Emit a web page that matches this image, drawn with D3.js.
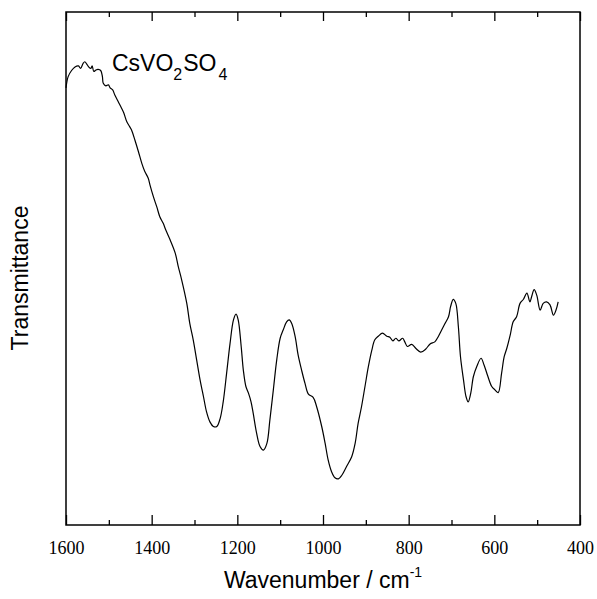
<!DOCTYPE html>
<html>
<head>
<meta charset="utf-8">
<script src="https://cdn.jsdelivr.net/npm/d3@7"></script>
<style>
  body { margin: 0; background: #fff; }
  .tick text { font-family: "Liberation Serif", "Times New Roman", serif; font-size: 18px; fill: #000; }
  .tick line { stroke: #000; stroke-width: 1.3; }
</style>
</head>
<body>
<div id="chart"></div>
<script>
// IR spectrum (wavenumber in cm-1, transmittance in arbitrary units)
var wavenumber = [1600, 1595, 1587, 1579, 1571, 1566, 1560, 1556, 1552, 1546, 1542, 1539, 1535, 1530, 1525, 1519,
  1515, 1513, 1507, 1501, 1497, 1491, 1486, 1478, 1470, 1465, 1458, 1451, 1447, 1439, 1431, 1423, 1416, 1408,
  1404, 1396, 1388, 1381, 1373, 1367, 1357, 1345, 1338, 1330, 1318, 1311, 1303, 1295, 1287, 1279, 1272, 1264,
  1256, 1248, 1240, 1233, 1225, 1217, 1209, 1203, 1198, 1191, 1186, 1180, 1174, 1168, 1163, 1155, 1147, 1139,
  1131, 1124, 1116, 1108, 1100, 1093, 1085, 1079, 1073, 1065, 1058, 1050, 1042, 1034, 1023, 1015, 1003, 995,
  988, 980, 972, 964, 956, 945, 933, 925, 918, 910, 902, 894, 886, 879, 871, 861, 851, 844, 837, 830, 823, 814,
  809, 803, 793, 783, 772, 760, 750, 739, 731, 723, 715, 707, 702, 696, 690, 684, 679, 672, 666, 661, 655, 649,
  641, 631, 624, 616, 606, 598, 591, 583, 577, 571, 563, 556, 548, 540, 532, 524, 517, 513, 507, 501, 493, 486,
  478, 470, 462, 456, 451];
var transmittance = [85.2, 87.4, 88.6, 89.3, 89.5, 89.0, 90.0, 90.3, 89.9, 89.2, 89.0, 89.5, 88.4, 88.7, 88.8, 88.6,
  87.4, 86.1, 85.6, 85.8, 85.2, 84.8, 83.8, 82.5, 81.2, 80.3, 78.6, 77.6, 77.0, 75.0, 72.8, 70.5, 68.9, 67.6,
  66.3, 64.0, 62.0, 60.1, 58.8, 57.5, 55.6, 53.0, 50.4, 47.8, 43.2, 39.3, 36.1, 32.2, 28.3, 25.0, 22.1, 20.1,
  19.2, 19.2, 20.8, 24.0, 29.6, 35.4, 40.0, 41.1, 40.0, 34.8, 30.2, 27.0, 25.7, 24.0, 21.8, 17.9, 15.3, 14.6,
  15.9, 20.5, 26.3, 32.2, 36.4, 38.0, 39.6, 40.0, 39.3, 36.7, 33.1, 30.2, 27.6, 25.5, 24.9, 23.1, 19.2, 15.9,
  12.7, 10.4, 9.2, 9.0, 9.7, 11.4, 13.3, 15.9, 19.8, 23.1, 27.0, 30.9, 34.1, 36.1, 36.8, 37.4, 36.8, 36.6, 35.9,
  36.4, 35.9, 36.4, 35.7, 34.8, 35.2, 34.4, 33.7, 34.3, 35.3, 35.7, 36.7, 38.0, 39.3, 40.6, 42.6, 44.0, 43.2,
  38.7, 32.8, 28.3, 25.0, 24.0, 25.7, 28.9, 30.9, 32.5, 31.2, 29.2, 27.0, 26.3, 25.8, 29.6, 32.8, 34.4, 37.0,
  39.6, 40.6, 43.2, 44.0, 45.2, 43.5, 44.5, 45.9, 44.8, 41.9, 43.2, 43.5, 42.9, 40.9, 41.9, 43.5];

var majorTicks = [1600, 1400, 1200, 1000, 800, 600, 400];
var minorTicks = [1500, 1300, 1100, 900, 700, 500];

var attrs = {
  svgWidth: 597,
  svgHeight: 599,
  left: 66,
  right: 580,
  top: 12,
  bottom: 525
};

var points = wavenumber.map(function (w, i) { return [w, transmittance[i]]; });

var x = d3.scaleLinear().domain([1600, 400]).range([attrs.left, attrs.right]);
var y = d3.scaleLinear().domain([0, 100]).range([attrs.bottom, attrs.top]);

var svg = d3.select('#chart').append('svg')
  .attr('width', attrs.svgWidth)
  .attr('height', attrs.svgHeight);

// ticks point inward, bottom axis carries the labels
var bottomMajor = svg.append('g')
  .attr('transform', 'translate(0,' + attrs.bottom + ')')
  .call(d3.axisBottom(x).tickValues(majorTicks).tickSize(-10).tickPadding(16).tickFormat(d3.format('d')));
var bottomMinor = svg.append('g')
  .attr('transform', 'translate(0,' + attrs.bottom + ')')
  .call(d3.axisBottom(x).tickValues(minorTicks).tickSize(-5).tickFormat(''));
var topMajor = svg.append('g')
  .attr('transform', 'translate(0,' + attrs.top + ')')
  .call(d3.axisTop(x).tickValues(majorTicks).tickSize(-9).tickFormat(''));
var topMinor = svg.append('g')
  .attr('transform', 'translate(0,' + attrs.top + ')')
  .call(d3.axisTop(x).tickValues(minorTicks).tickSize(-5).tickFormat(''));
svg.selectAll('.domain').remove();

// frame
svg.append('rect')
  .attr('x', attrs.left)
  .attr('y', attrs.top)
  .attr('width', attrs.right - attrs.left)
  .attr('height', attrs.bottom - attrs.top)
  .attr('fill', 'none')
  .attr('stroke', '#000')
  .attr('stroke-width', 1.5);

// spectrum
var line = d3.line()
  .x(function (d) { return x(d[0]); })
  .y(function (d) { return y(d[1]); })
  .curve(d3.curveCatmullRom.alpha(0.5));

svg.append('path')
  .datum(points)
  .attr('d', line)
  .attr('fill', 'none')
  .attr('stroke', '#000')
  .attr('stroke-width', 1.2);

// compound label
var label = svg.append('text')
  .attr('x', 112)
  .attr('y', 71)
  .attr('font-family', 'Liberation Sans, Arial, sans-serif')
  .attr('font-size', 23)
  .attr('fill', '#000');
label.append('tspan').text('CsVO');
label.append('tspan').attr('font-size', 16).attr('dy', 9).text('2');
label.append('tspan').attr('dy', -9).attr('dx', 1).text('SO');
label.append('tspan').attr('font-size', 16).attr('dy', 9).attr('dx', 2).text('4');

// axis titles
var xTitle = svg.append('text')
  .attr('x', 323)
  .attr('y', 588)
  .attr('text-anchor', 'middle')
  .attr('font-family', 'Liberation Sans, Arial, sans-serif')
  .attr('font-size', 23)
  .attr('fill', '#000');
xTitle.append('tspan').text('Wavenumber / cm');
xTitle.append('tspan').attr('font-size', 14).attr('dy', -11).text('-1');

svg.append('text')
  .attr('transform', 'translate(28,278) rotate(-90)')
  .attr('text-anchor', 'middle')
  .attr('font-family', 'Liberation Sans, Arial, sans-serif')
  .attr('font-size', 23)
  .attr('fill', '#000')
  .text('Transmittance');
</script>
</body>
</html>
